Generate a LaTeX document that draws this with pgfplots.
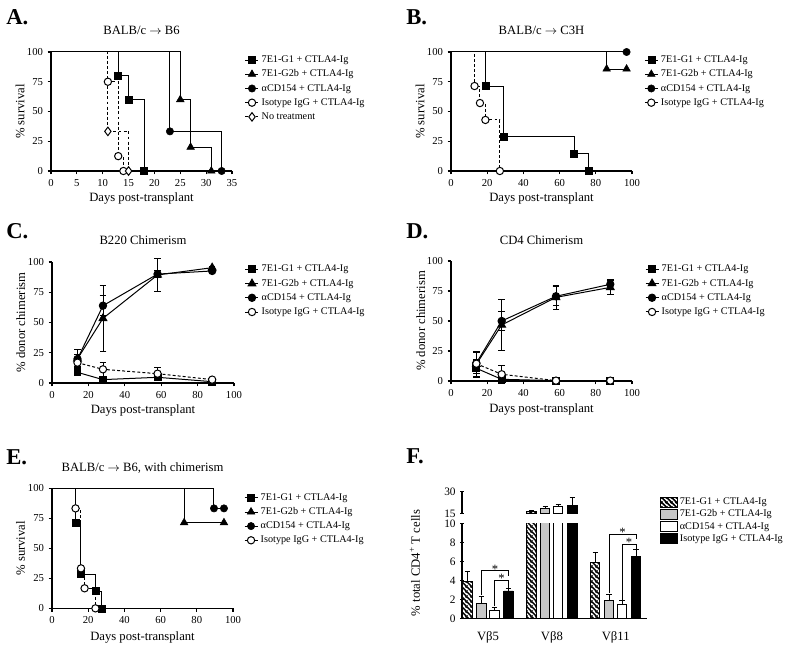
\documentclass[border=0pt]{standalone}
\usepackage{fontspec}
\setmainfont{Liberation Serif}
\usepackage{pgfplots}
\pgfplotsset{compat=1.18}
\usetikzlibrary{patterns.meta}

\tikzdeclarepattern{
  name=hatchNW,
  type=uncolored,
  bottom left={(0pt,0pt)},
  top right={(3.4pt,3.4pt)},
  tile size={(3.4pt,3.4pt)},
  code={
    \pgfsetlinewidth{1.25pt}
    \pgfpathmoveto{\pgfpoint{-0.6pt}{4.0pt}}\pgfpathlineto{\pgfpoint{4.0pt}{-0.6pt}}
    \pgfpathmoveto{\pgfpoint{-0.6pt}{0.6pt}}\pgfpathlineto{\pgfpoint{0.6pt}{-0.6pt}}
    \pgfpathmoveto{\pgfpoint{2.8pt}{4.0pt}}\pgfpathlineto{\pgfpoint{4.0pt}{2.8pt}}
    \pgfusepath{stroke}
  }
}

\newcommand\tickfont{\fontsize{8}{9}\selectfont}
\newcommand\labfont{\fontsize{9.5}{11}\selectfont}
\newcommand\legfont{\fontsize{7.65}{9}\selectfont}
\newcommand\letfont{\fontsize{17}{20}\selectfont\bfseries}

\pgfplotsset{
  base/.style={
    scale only axis, anchor=south west, clip=false,
    axis lines=left,
    tick align=outside, major tick length=2.5pt,
    tick style={black, line width=0.8pt},
    tick label style={font=\tickfont},
    label style={font=\labfont},
    xlabel style={anchor=center},
    ylabel style={anchor=center},
    title style={font=\labfont, anchor=center, yshift=0pt},
    /pgf/number format/assume math mode=true,
    legend cell align=left,
    legend style={draw=none, fill=none, inner sep=0pt, outer sep=0pt,
      anchor=north west, font=\legfont, row sep=2.45pt, column sep=1.5pt,
      nodes={inner sep=0.5pt, text height=5.5pt, text depth=1.7pt}},
  },
  noarrows/.style={axis line style={-, line width=0.9pt},
    every inner x axis line/.append style={-}, every inner y axis line/.append style={-},
    every outer x axis line/.append style={-}, every outer y axis line/.append style={-}},
  limg/.style={legend image code/.code={%
    \draw[##1] (0pt,0pt) -- (9.75pt,0pt);
    \draw[##1] plot coordinates {(4.875pt,0pt)};}},
  kmline/.style={const plot, black, line width=0.75pt, forget plot, mark=none},
  kmdash/.style={kmline, dash pattern=on 2.2pt off 1.6pt},
  msq/.style={only marks, black, mark=square*, mark size=2.6pt, limg},
  mtri/.style={only marks, black, mark=triangle*, mark size=3.3pt, limg},
  mcirc/.style={only marks, black, mark=*, mark size=2.75pt, limg},
  mocirc/.style={only marks, black, mark=*, mark size=2.75pt, mark options={solid, fill=white, draw=black}, dash pattern=on 2.2pt off 1.6pt, line width=0.75pt, limg},
  mdiam/.style={only marks, black, mark=diamond*, mark size=3.2pt, mark options={solid, fill=white, draw=black}, dash pattern=on 2.2pt off 1.6pt, line width=0.75pt, limg},
  cline/.style={black, line width=0.75pt, limg,
    error bars/y dir=both, error bars/y explicit,
    error bars/error bar style={solid, line width=0.6pt},
    error bars/error mark options={solid, rotate=90, mark size=2.5pt, line width=0.6pt}},
  fbar/.style={ybar, bar width=0.146, bar shift=0pt, draw=black, line width=0.7pt,
    legend image code/.code={\draw[##1] (0pt,-3.7pt) rectangle (12.75pt,3.7pt);},
    error bars/y dir=plus, error bars/y explicit,
    error bars/error bar style={black, line width=0.7pt},
    error bars/error mark options={black, rotate=90, mark size=2pt, line width=0.7pt}},
}

\begin{document}
\begin{tikzpicture}
\useasboundingbox (0pt,0pt) rectangle (600pt,-489pt);

\node[anchor=base west, font=\letfont, inner sep=0pt] at (4.5pt,-18.75pt) {A.};
\node[anchor=base west, font=\letfont, inner sep=0pt] at (304.5pt,-18.75pt) {B.};
\node[anchor=base west, font=\letfont, inner sep=0pt] at (4.5pt,-179.25pt) {C.};
\node[anchor=base west, font=\letfont, inner sep=0pt] at (304.5pt,-179.25pt) {D.};
\node[anchor=base west, font=\letfont, inner sep=0pt] at (4.5pt,-348pt) {E.};
\node[anchor=base west, font=\letfont, inner sep=0pt] at (304.5pt,-347.25pt) {F.};

% ---------------- A ----------------
\begin{axis}[base, at={(38.25pt,-128.25pt)}, width=135.75pt, height=89.25pt,
  xmin=0, xmax=35, ymin=0, ymax=100, xtick={0,5,...,35}, ytick={0,25,50,75,100},
  title={BALB/c $\rightarrow$ B6}, title style={at={(axis description cs:0.5,1.115)}},
  xlabel={Days post-transplant}, xlabel style={at={(axis description cs:0.5,-0.229)}},
  ylabel={\% survival}, ylabel style={at={(axis description cs:-0.171,0.5)}},
  legend style={at={(1.0718,0.978)}}, noarrows]
\addplot[kmline] coordinates {(0,100) (13,80) (15,60) (18,0)};
\addplot[kmline] coordinates {(0,100) (25,60) (27,20) (31,0)};
\addplot[kmline] coordinates {(0,100) (23,33.3) (33,0)};
\addplot[kmdash] coordinates {(0,100) (11,75) (13,12.5) (14,0)};
\addplot[kmdash] coordinates {(0,100) (11,33.3) (15,0)};
\addplot[msq] coordinates {(13,80) (15,60) (18,0)};
\addlegendentry{7E1-G1 + CTLA4-Ig}
\addplot[mtri] coordinates {(25,60) (27,20) (31,0)};
\addlegendentry{7E1-G2b + CTLA4-Ig}
\addplot[mcirc] coordinates {(23,33.3) (33,0)};
\addlegendentry{αCD154 + CTLA4-Ig}
\addplot[mocirc] coordinates {(11,75) (13,12.5) (14,0)};
\addlegendentry{Isotype IgG + CTLA4-Ig}
\addplot[mdiam] coordinates {(11,33.3) (15,0)};
\addlegendentry{No treatment}
\end{axis}

% ---------------- B ----------------
\begin{axis}[base, at={(338.25pt,-128.25pt)}, width=135.75pt, height=89.25pt,
  xmin=0, xmax=100, ymin=0, ymax=100, xtick={0,20,...,100}, ytick={0,25,50,75,100},
  title={BALB/c $\rightarrow$ C3H}, title style={at={(axis description cs:0.5,1.115)}},
  xlabel={Days post-transplant}, xlabel style={at={(axis description cs:0.5,-0.229)}},
  ylabel={\% survival}, ylabel style={at={(axis description cs:-0.171,0.5)}},
  legend style={at={(1.068,0.978)}}, noarrows]
\addplot[kmline] coordinates {(0,100) (19,71.4) (29,28.6) (68,14.3) (76,0)};
\addplot[kmline] coordinates {(0,100) (86,85.7) (97,85.7)};
\addplot[kmline] coordinates {(0,100) (97,100)};
\addplot[kmdash] coordinates {(0,100) (13,71.4) (16,57.1) (19,42.9) (27,0)};
\addplot[msq] coordinates {(19,71.4) (29,28.6) (68,14.3) (76,0)};
\addlegendentry{7E1-G1 + CTLA4-Ig}
\addplot[mtri] coordinates {(86,85.7) (97,85.7)};
\addlegendentry{7E1-G2b + CTLA4-Ig}
\addplot[mcirc] coordinates {(97,100)};
\addlegendentry{αCD154 + CTLA4-Ig}
\addplot[mocirc] coordinates {(13,71.4) (16,57.1) (19,42.9) (27,0)};
\addlegendentry{Isotype IgG + CTLA4-Ig}
\end{axis}

% ---------------- C ----------------
\begin{axis}[base, at={(39pt,-287.25pt)}, width=136.5pt, height=90.75pt,
  xmin=0, xmax=100, ymin=0, ymax=100, xtick={0,20,...,100}, ytick={0,25,50,75,100},
  title={B220 Chimerism}, title style={at={(axis description cs:0.5,1.113)}},
  xlabel={Days post-transplant}, xlabel style={at={(axis description cs:0.5,-0.226)}},
  ylabel={\% donor chimerism}, ylabel style={at={(axis description cs:-0.172,0.5)}},
  legend style={at={(1.0604,0.984)}}, noarrows]
\addplot[cline, mark=square*, mark size=2.6pt] coordinates {(14,8.8) +- (0,2) (28,2.8) +- (0,1) (58,4.7) +- (0,1.5) (88,1.1) +- (0,0.5)};
\addlegendentry{7E1-G1 + CTLA4-Ig}
\addplot[cline, mark=triangle*, mark size=3.3pt] coordinates {(14,20) +- (0,7.5) (28,53.4) +- (0,27) (58,89.3) +- (0,14) (88,95.3) +- (0,1)};
\addlegendentry{7E1-G2b + CTLA4-Ig}
\addplot[cline, mark=*, mark size=2.75pt] coordinates {(14,19.8) +- (0,4) (28,63.9) +- (0,8.3) (58,90) +- (0,3) (88,92.6) +- (0,1.5)};
\addlegendentry{αCD154 + CTLA4-Ig}
\addplot[cline, dash pattern=on 2.2pt off 1.6pt, mark=*, mark size=2.75pt, mark options={solid, fill=white, draw=black}] coordinates {(14,16.8) +- (0,3) (28,11.3) +- (0,5.5) (58,7.7) +- (0,5.5) (88,2.8) +- (0,1)};
\addlegendentry{Isotype IgG + CTLA4-Ig}
\end{axis}

% ---------------- D ----------------
\begin{axis}[base, at={(338.25pt,-285.75pt)}, width=135.75pt, height=90pt,
  xmin=0, xmax=100, ymin=0, ymax=100, xtick={0,20,...,100}, ytick={0,25,50,75,100},
  title={CD4 Chimerism}, title style={at={(axis description cs:0.5,1.106)}},
  xlabel={Days post-transplant}, xlabel style={at={(axis description cs:0.5,-0.24)}},
  ylabel={\% donor chimerism}, ylabel style={at={(axis description cs:-0.167,0.5)}},
  legend style={at={(1.072,0.976)}}, noarrows]
\addplot[cline, mark=square*, mark size=2.6pt] coordinates {(14,10.6) +- (0,7) (28,1.4) +- (0,1) (58,0.3) +- (0,0.3) (88,0.3) +- (0,0.3)};
\addlegendentry{7E1-G1 + CTLA4-Ig}
\addplot[cline, mark=triangle*, mark size=3.3pt] coordinates {(14,14) +- (0,11) (28,46.7) +- (0,21) (58,69.7) +- (0,10) (88,78) +- (0,6)};
\addlegendentry{7E1-G2b + CTLA4-Ig}
\addplot[cline, mark=*, mark size=2.75pt] coordinates {(14,15) +- (0,9) (28,50) +- (0,8) (58,70.6) +- (0,8) (88,80.6) +- (0,4.4)};
\addlegendentry{αCD154 + CTLA4-Ig}
\addplot[cline, dash pattern=on 2.2pt off 1.6pt, mark=*, mark size=2.75pt, mark options={solid, fill=white, draw=black}] coordinates {(14,14.4) +- (0,3) (28,5.6) +- (0,7.7) (58,0.3) +- (0,0.5) (88,0.3) +- (0,0.5)};
\addlegendentry{Isotype IgG + CTLA4-Ig}
\end{axis}

% ---------------- E ----------------
\begin{axis}[base, at={(39pt,-456.25pt)}, width=135.75pt, height=90pt,
  xmin=0, xmax=100, ymin=0, ymax=100, xtick={0,20,...,100}, ytick={0,25,50,75,100},
  title={BALB/c $\rightarrow$ B6, with chimerism}, title style={at={(axis description cs:0.5,1.105)}},
  xlabel={Days post-transplant}, xlabel style={at={(axis description cs:0.5,-0.242)}},
  ylabel={\% survival}, ylabel style={at={(axis description cs:-0.173,0.5)}},
  legend style={at={(1.061,0.9675)}}, noarrows]
\addplot[kmline] coordinates {(0,100) (13,71.4) (16,28.6) (24,14.3) (27.5,0)};
\addplot[kmline] coordinates {(0,100) (73,71.4) (95,71.4)};
\addplot[kmline] coordinates {(0,100) (89.5,83.3) (95,83.3)};
\addplot[kmdash] coordinates {(0,100) (13,83.3) (16,33.3) (18,16.7) (24,0)};
\addplot[msq] coordinates {(13,71.4) (16,28.6) (24,14.3) (27.5,0)};
\addlegendentry{7E1-G1 + CTLA4-Ig}
\addplot[mtri] coordinates {(73,71.4) (95,71.4)};
\addlegendentry{7E1-G2b + CTLA4-Ig}
\addplot[mcirc] coordinates {(89.5,83.3) (95,83.3)};
\addlegendentry{αCD154 + CTLA4-Ig}
\addplot[mocirc] coordinates {(13,83.3) (16,33.3) (18,16.7) (24,0)};
\addlegendentry{Isotype IgG + CTLA4-Ig}
\end{axis}

% ---------------- F (lower) ----------------
\begin{axis}[base, clip=true, at={(346.5pt,-463.75pt)}, width=138.75pt, height=71.25pt,
  xmin=0.592, xmax=3.49, ymin=0, ymax=10, ytick={0,2,...,10},
  axis x line=bottom, axis y line=left,
  xtick={1,2,3}, xticklabels={Vβ5,Vβ8,Vβ11}, xtick style={draw=none},
  xticklabel style={font=\labfont, yshift=-5pt},
  yticklabel style={font=\fontsize{8.5}{9}\selectfont},
  ylabel={\% total CD4\textsuperscript{+} T cells},
  ylabel style={at={(axis description cs:-0.254,0.582)}},
  legend style={at={(1.070,1.281)}, row sep=0.95pt, column sep=1pt}, noarrows]
\addplot[fbar, pattern={hatchNW}, pattern color=black] coordinates {(0.68,3.93) +- (0,0.97) (1.68,16.6) +- (0,0.5) (2.68,5.9) +- (0,1.05)};
\addlegendentry{7E1-G1 + CTLA4-Ig}
\addplot[fbar, fill=black!22] coordinates {(0.896,1.58) +- (0,0.7) (1.896,18.5) +- (0,1.1) (2.896,1.93) +- (0,0.57)};
\addlegendentry{7E1-G2b + CTLA4-Ig}
\addplot[fbar, fill=white] coordinates {(1.10,0.8) +- (0,0.36) (2.10,20.1) +- (0,1.4) (3.10,1.5) +- (0,0.36)};
\addlegendentry{αCD154 + CTLA4-Ig}
\addplot[fbar, fill=black] coordinates {(1.32,2.88) +- (0,0.24) (2.32,20.5) +- (0,5.4) (3.32,6.53) +- (0,0.73)};
\addlegendentry{Isotype IgG + CTLA4-Ig}
% significance brackets
\draw[line width=0.6pt] (axis cs:0.896,2.45) |- (axis cs:1.32,5.0) -- (axis cs:1.32,4.48);
\draw[line width=0.6pt] (axis cs:1.10,1.3) |- (axis cs:1.32,3.96) -- (axis cs:1.32,3.2);
\draw[line width=0.6pt] (axis cs:2.896,2.65) |- (axis cs:3.32,8.84) -- (axis cs:3.32,8.4);
\draw[line width=0.6pt] (axis cs:3.10,1.95) |- (axis cs:3.32,7.79) -- (axis cs:3.32,7.33);
\node[font=\labfont, inner sep=0pt] at (axis cs:1.108,5.2) {*};
\node[font=\labfont, inner sep=0pt] at (axis cs:1.21,4.2) {*};
\node[font=\labfont, inner sep=0pt] at (axis cs:3.108,9.05) {*};
\node[font=\labfont, inner sep=0pt] at (axis cs:3.21,8.05) {*};
\end{axis}

% ---------------- F (upper, broken part: only the Vbeta8 bars reach it) ----------------
\begin{axis}[base, clip=true, at={(346.5pt,-385pt)}, width=138.75pt, height=16.2pt,
  xmin=0.592, xmax=3.49, ymin=15, ymax=30, ytick={15,30}, xtick=\empty,
  axis x line=none, axis y line=left,
  x axis line style={draw=none}, y axis line style={-, line width=0.9pt},
  yticklabel style={font=\fontsize{8.5}{9}\selectfont}]
\addplot[fbar, forget plot, pattern={hatchNW}, pattern color=black] coordinates {(1.68,16.6) +- (0,0.5)};
\addplot[fbar, forget plot, fill=black!22] coordinates {(1.896,18.5) +- (0,1.1)};
\addplot[fbar, forget plot, fill=white] coordinates {(2.10,20.1) +- (0,1.4)};
\addplot[fbar, forget plot, fill=black] coordinates {(2.32,20.5) +- (0,5.4)};
\end{axis}

\end{tikzpicture}
\end{document}
